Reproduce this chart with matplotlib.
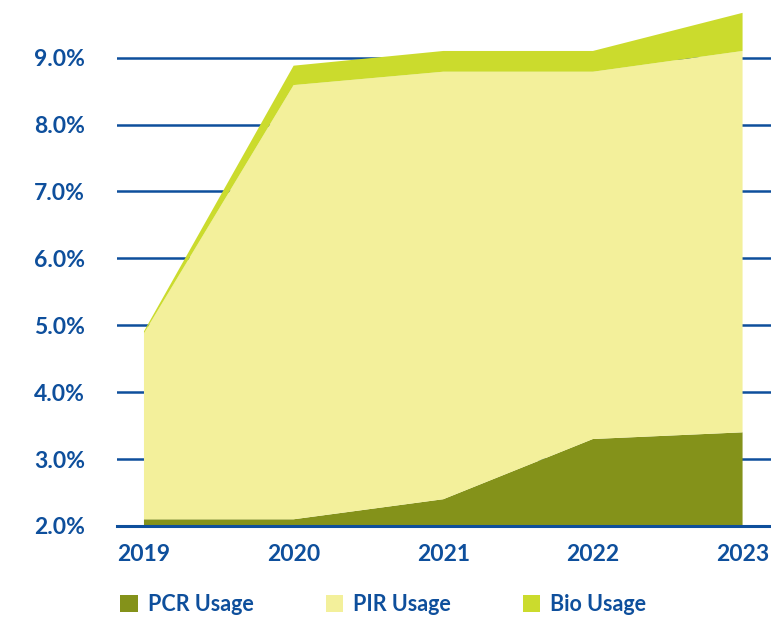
import matplotlib.pyplot as plt
from matplotlib.patches import Patch

# years on the x axis
years = [2019, 2020, 2021, 2022, 2023]

# usage shares in %, stacked
pcr_usage = [2.1, 2.1, 2.4, 3.3, 3.4]
pir_usage = [2.78, 6.49, 6.39, 5.49, 5.7]
bio_usage = [0.03, 0.29, 0.31, 0.31, 0.57]

y_ticks = [2, 3, 4, 5, 6, 7, 8, 9]
labels = ["PCR Usage", "PIR Usage", "Bio Usage"]
colors = ["#84921a", "#f3f09b", "#cbdb2d"]
blue = "#0e4f9c"

plt.rcParams['font.family'] = ['Lato', 'DejaVu Sans']

fig = plt.figure(figsize=(7.71, 6.18), dpi=100)
ax = fig.add_axes([0.1518, 0.1489, 0.8482, 0.839])

ax.stackplot(years, pcr_usage, pir_usage, bio_usage, colors=colors, zorder=2)

ax.set_xlim(2018.82, 2023.19)
ax.set_ylim(2, 9.75)
ax.set_yticks(y_ticks)
ax.set_yticklabels([f"{v:.1f}%" for v in y_ticks])
ax.set_xticks(years)
ax.set_xticklabels([str(y) for y in years])

ax.set_axisbelow(True)
ax.grid(axis='y', color=blue, linewidth=1.8)
ax.axhline(2.0, color=blue, linewidth=2.2, zorder=3, clip_on=False)

for s in ax.spines.values():
    s.set_visible(False)
ax.tick_params(axis='both', length=0, labelsize=16.5, labelcolor=blue)
ax.tick_params(axis='y', pad=23)
ax.tick_params(axis='x', pad=13)
for t in ax.get_xticklabels() + ax.get_yticklabels():
    t.set_fontweight('bold')

handles = [Patch(facecolor=c, edgecolor='none') for c in colors]
leg = fig.legend(handles, labels, loc='center left', bbox_to_anchor=(0.145, 0.022),
                 ncol=3, frameon=False, handlelength=0.82, handleheight=0.82,
                 handletextpad=0.45, columnspacing=3.35, borderaxespad=0,
                 prop={'size': 15.5, 'weight': 'bold'})
for t in leg.get_texts():
    t.set_color(blue)

fig.savefig("out.png", dpi=100)
